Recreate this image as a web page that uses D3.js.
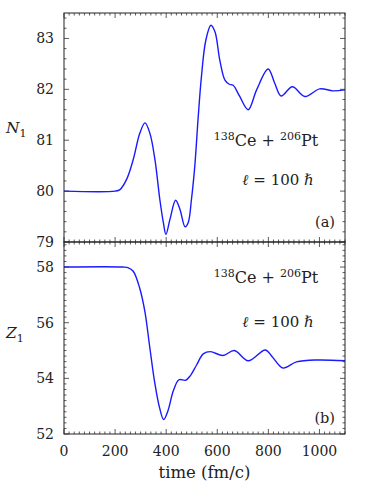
<!DOCTYPE html>
<html>
<head>
<meta charset="utf-8">
<script src="https://cdn.jsdelivr.net/npm/d3@7"></script>
<style>
    html, body { margin: 0; padding: 0; background: #fff; overflow: hidden; }
    svg { display: block; }
</style>
</head>
<body>
<div id="chart"></div>
<script>
// time grid (fm/c) and N1 values, panel (a)
const timeN = [0, 200, 219, 245, 271, 297, 317, 336, 356, 375, 389, 399, 415, 437, 454, 474, 486, 499, 512, 525,
    538, 555, 575, 591, 610, 630, 647, 662, 688, 721, 754, 799, 825, 850, 894, 943, 1001, 1053, 1100];
const valuesN = [80, 80, 80.03, 80.23, 80.62, 81.14, 81.34, 81.14, 80.62, 79.84, 79.38, 79.15, 79.45, 79.82, 79.64, 79.3,
    79.38, 79.84, 80.49, 81.43, 82.25, 82.96, 83.26, 83.13, 82.57, 82.18, 82.1, 82.08, 81.86, 81.6, 81.99, 82.4, 82.12,
    81.87, 82.05, 81.86, 82.01, 81.97, 81.99];
// time grid and Z1 values, panel (b)
const timeZ = [0, 230, 250, 271, 297, 317, 336, 356, 374, 390, 406, 428, 450, 476, 495, 519, 545, 573, 622, 667, 721,
    788, 815, 857, 910, 990, 1100];
const valuesZ = [58, 58, 57.98, 57.85, 57.22, 56.38, 55.1, 53.8, 52.95, 52.52, 52.81, 53.55, 53.95, 53.93, 54.1, 54.48,
    54.88, 54.96, 54.82, 55.0, 54.63, 55.02, 54.78, 54.37, 54.59, 54.66, 54.63];

const xTicks = [0, 200, 400, 600, 800, 1000];
const nTicks = [79, 80, 81, 82, 83];
const zTicks = [52, 54, 56, 58];

const width = 375;
const height = 489;
const margin = { left: 64, right: 30 };
const innerWidth = width - margin.left - margin.right;
const FONT = "DejaVu Serif";

const svg = d3.select("#chart").append("svg")
    .attr("width", width)
    .attr("height", height)
    .attr("font-family", FONT)
    .attr("fill", "#222");

const x = d3.scaleLinear().domain([0, 1100]).range([margin.left, margin.left + innerWidth]);

function minorTicks(lo, hi, step) {
    const out = [];
    for (let v = lo; v <= hi + 1e-9; v += step) out.push(+v.toFixed(4));
    return out;
}

function drawPanel(top, bottom, yDomain, yTicks, times, values, opts) {
    const y = d3.scaleLinear().domain(yDomain).range([bottom, top]);
    const g = svg.append("g");
    const left = margin.left, right = margin.left + innerWidth;

    // minor/major ticks, all pointing inwards
    const ticks = g.append("g").attr("stroke", "#333").attr("stroke-width", 0.8);
    const xMinor = minorTicks(0, 1100, 20);
    for (const t of xMinor) {
        const len = t % 200 === 0 ? 5 : 2.5;
        ticks.append("line").attr("x1", x(t)).attr("x2", x(t)).attr("y1", bottom).attr("y2", bottom - len);
        ticks.append("line").attr("x1", x(t)).attr("x2", x(t)).attr("y1", top).attr("y2", top + len);
    }
    const yMinor = minorTicks(yDomain[0], yDomain[1], 0.2);
    for (const v of yMinor) {
        const len = yTicks.some(t => Math.abs(t - v) < 1e-6) ? 5 : 2.5;
        ticks.append("line").attr("x1", left).attr("x2", left + len).attr("y1", y(v)).attr("y2", y(v));
        ticks.append("line").attr("x1", right).attr("x2", right - len).attr("y1", y(v)).attr("y2", y(v));
    }

    // y tick labels
    g.selectAll(".ylab")
        .data(yTicks)
        .enter()
        .append("text")
        .attr("x", left - 10)
        .attr("y", d => y(d) + 5)
        .attr("text-anchor", "end")
        .style("font-size", "14px")
        .text(d => d);

    // curve
    const line = d3.line()
        .x(d => x(d[0]))
        .y(d => y(d[1]))
        .curve(d3.curveCatmullRom.alpha(0.5));
    g.append("path")
        .datum(times.map((t, i) => [t, values[i]]))
        .attr("d", line)
        .attr("fill", "none")
        .attr("stroke", "#1a1aff")
        .attr("stroke-width", 1.4);

    // frame
    g.append("rect")
        .attr("x", left).attr("y", top)
        .attr("width", innerWidth).attr("height", bottom - top)
        .attr("fill", "none").attr("stroke", "#222").attr("stroke-width", 1);

    // y label with subscript
    const lab = g.append("text")
        .attr("x", 6)
        .attr("y", opts.labelY)
        .style("font-size", "15.5px");
    lab.append("tspan").style("font-style", "italic").text(opts.symbol);
    lab.append("tspan").attr("dy", 4).style("font-size", "11px").text("1");

    // reaction annotation
    const r = g.append("text")
        .attr("x", 266).attr("y", opts.reactY)
        .attr("text-anchor", "middle")
        .style("font-size", "16px");
    r.append("tspan").attr("dy", -6).style("font-size", "11px").text("138");
    r.append("tspan").attr("dy", 6).text("Ce + ");
    r.append("tspan").attr("dy", -6).style("font-size", "11px").text("206");
    r.append("tspan").attr("dy", 6).text("Pt");

    const l = g.append("text")
        .attr("x", 278).attr("y", opts.ellY)
        .attr("text-anchor", "middle")
        .style("font-size", "15px");
    l.append("tspan").style("font-style", "italic").text("ℓ");
    l.append("tspan").text(" = 100 ");
    l.append("tspan").style("font-style", "italic").text("ℏ");

    g.append("text")
        .attr("x", 335).attr("y", opts.tagY)
        .attr("text-anchor", "end")
        .style("font-size", "14.5px")
        .text(opts.tag);
}

drawPanel(13, 242, [79, 83.5], nTicks, timeN, valuesN,
    { symbol: "N", labelY: 133, reactY: 146, ellY: 185, tagY: 227, tag: "(a)" });
drawPanel(242, 434, [52, 58.9], zTicks, timeZ, valuesZ,
    { symbol: "Z", labelY: 338, reactY: 283, ellY: 327, tagY: 423, tag: "(b)" });

// x tick labels and title
svg.selectAll(".xlab")
    .data(xTicks)
    .enter()
    .append("text")
    .attr("x", d => x(d))
    .attr("y", 456)
    .attr("text-anchor", "middle")
    .style("font-size", "14px")
    .text(d => d);

svg.append("text")
    .attr("x", x(550))
    .attr("y", 478)
    .attr("text-anchor", "middle")
    .style("font-size", "16.5px")
    .text("time (fm/c)");
</script>
</body>
</html>
